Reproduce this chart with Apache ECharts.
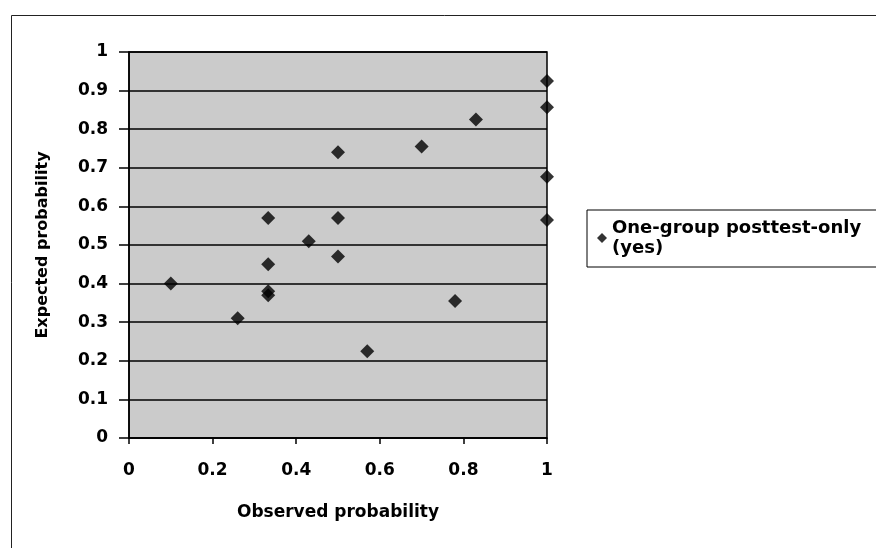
<!DOCTYPE html>
<html>
<head>
<meta charset="utf-8">
<script src="https://cdn.jsdelivr.net/npm/echarts@6/dist/echarts.min.js"></script>
<style>html,body{margin:0;padding:0;background:#fff}#c{width:876px;height:548px}</style>
</head>
<body>
<div id="c"></div>
<script>
var seriesName = 'One-group posttest-only\n(yes)';
var observed = [0.10, 0.26, 0.333, 0.333, 0.333, 0.333, 0.43, 0.50, 0.50, 0.50, 0.57, 0.70, 0.83, 0.78, 1.00, 1.00, 1.00, 1.00];
var expected = [0.40, 0.31, 0.57, 0.45, 0.37, 0.38, 0.51, 0.57, 0.47, 0.74, 0.225, 0.755, 0.825, 0.355, 0.925, 0.857, 0.677, 0.565];
var xTitle = 'Observed probability';
var yTitle = 'Expected probability';

var pts = observed.map(function (x, i) { return [x, expected[i]]; });
var font = '"DejaVu Sans", "Liberation Sans", Arial, sans-serif';
var chart = echarts.init(document.getElementById('c'), null, {renderer: 'canvas'});
chart.setOption({
  backgroundColor: '#ffffff',
  animation: false,
  graphic: [{
    type: 'rect', left: 9, top: 13, silent: true,
    shape: {width: 900, height: 600},
    style: {fill: 'none', stroke: '#222', lineWidth: 1}
  }],
  grid: {
    left: 129, right: 329, top: 52, bottom: 110,
    show: true, backgroundColor: '#cbcbcb', borderColor: '#000', borderWidth: 1.5
  },
  legend: {
    left: 587, top: 210,
    orient: 'vertical',
    icon: 'diamond', itemWidth: 10, itemHeight: 10, itemGap: 4,
    borderColor: '#000', borderWidth: 1, padding: [8, 40, 9, 10],
    textStyle: {fontFamily: font, fontWeight: 'bold', fontSize: 18, color: '#000', lineHeight: 20},
    data: [seriesName]
  },
  xAxis: {
    type: 'value', min: 0, max: 1, interval: 0.2,
    name: xTitle, nameLocation: 'middle', nameGap: 66,
    nameTextStyle: {fontFamily: font, fontWeight: 'bold', fontSize: 17, color: '#000'},
    axisLine: {show: true, lineStyle: {color: '#000', width: 1.5}},
    axisTick: {show: true, length: 6, lineStyle: {color: '#000', width: 1.5}},
    axisLabel: {fontFamily: font, fontWeight: 'bold', fontSize: 17, color: '#000', margin: 24},
    splitLine: {show: false}
  },
  yAxis: {
    type: 'value', min: 0, max: 1, interval: 0.1,
    name: yTitle, nameLocation: 'middle', nameGap: 78, nameRotate: 90,
    nameTextStyle: {fontFamily: font, fontWeight: 'bold', fontSize: 16, color: '#000'},
    axisLine: {show: true, lineStyle: {color: '#000', width: 1.5}},
    axisTick: {show: true, length: 10, lineStyle: {color: '#000', width: 1.5}},
    axisLabel: {fontFamily: font, fontWeight: 'bold', fontSize: 17, color: '#000', margin: 21,
      formatter: function (v) { return String(Math.round(v * 10) / 10); }},
    splitLine: {show: true, lineStyle: {color: '#000', width: 1.5}}
  },
  series: [{
    name: seriesName,
    type: 'scatter',
    symbol: 'diamond',
    symbolSize: 14,
    clip: false,
    itemStyle: {color: '#000'},
    data: pts
  }]
});
</script>
</body>
</html>
